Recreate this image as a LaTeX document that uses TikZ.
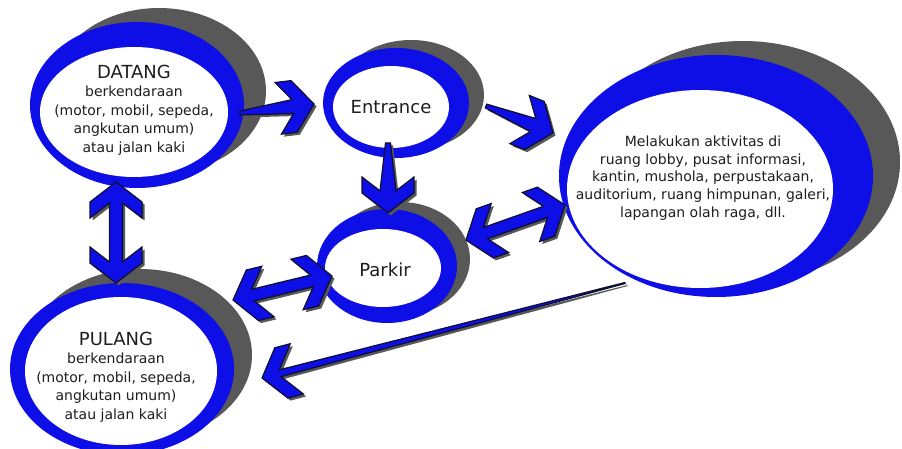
\documentclass[tikz,border=0pt]{standalone}
\usepackage{fontspec}
\setmainfont{DejaVu Sans}
\usepackage{tikz}
\usetikzlibrary{shapes.geometric}
\definecolor{ringblue}{RGB}{14,14,230}
\definecolor{ringgray}{RGB}{88,88,88}
\definecolor{txtgray}{RGB}{30,30,30}
\definecolor{arline}{RGB}{15,15,50}

\newcommand\arrowsetup[2]{%
  \pgfpointdiff{\pgfpointanchor{#1}{center}}{\pgfpointanchor{#2}{center}}%
  \pgfgetlastxy{\arx}{\ary}%
  \pgfmathsetmacro\arang{atan2(\ary,\arx)}%
  \pgfmathsetmacro\arlen{veclen(\arx,\ary)}%
  \pgfmathsetmacro\arback{\arlen-20}%
  \pgfmathsetmacro\arend{\arlen-36}%
}
\newcommand\onepoly[5]{%
  \path[#1,shift={(#2)},shift={(#5)},rotate=\arang]
    (0,#3) -- (\arcut,#4) -- (\arend,26) -- (\arback,26) -- (\arlen,0)
    -- (\arback,-26) -- (\arend,-26) -- (\arcut,-#4) -- (0,-#3) -- cycle;
}
\newcommand\onearrow[4]{%
  \arrowsetup{#1}{#2}%
  \pgfmathsetmacro\arcut{\arlen-16-20*#4/26}%
  \onepoly{arshadow}{#1}{#3}{#4}{2.5pt,-2.5pt}%
  \onepoly{arbody}{#1}{#3}{#4}{0pt,0pt}%
}
\newcommand\twopoly[4]{%
  \path[#1,shift={(#2)},shift={(#4)},rotate=\arang]
    (0,0) -- (20,26) -- (36,26) -- (\arcut,#3) -- (\arcutb,#3) -- (\arend,26)
    -- (\arback,26) -- (\arlen,0) -- (\arback,-26) -- (\arend,-26)
    -- (\arcutb,-#3) -- (\arcut,-#3) -- (36,-26) -- (20,-26) -- cycle;
}
\newcommand\twoarrow[3]{%
  \arrowsetup{#1}{#2}%
  \pgfmathsetmacro\arcut{16+20*#3/26}%
  \pgfmathsetmacro\arcutb{\arlen-\arcut}%
  \twopoly{arshadow}{#1}{#3}{2.5pt,-2.5pt}%
  \twopoly{arbody}{#1}{#3}{0pt,0pt}%
}

\begin{document}
\begin{tikzpicture}[x=1pt,y=-1pt]
  \tikzstyle{shell}=[ellipse,inner sep=0pt,fill=ringgray]
  \tikzstyle{ring}=[ellipse,inner sep=0pt,fill=ringblue]
  \tikzstyle{bubble}=[ellipse,inner sep=0pt,fill=white]
  \tikzstyle{words}=[align=center,text=txtgray,inner sep=0pt,font=\fontsize{14}{18.5}\selectfont]
  \tikzstyle{bigwords}=[text=txtgray,inner sep=0pt,font=\fontsize{18}{22}\selectfont]
  \tikzstyle{arbody}=[fill=ringblue,draw=arline,line width=1.2pt]
  \tikzstyle{arshadow}=[fill=ringgray]
  \useasboundingbox (0,0) rectangle (902,449);

  \node[shell,minimum width=214pt,minimum height=166pt] (datangshell) at (159,91) {};
  \node[ring,minimum width=214pt,minimum height=166pt] (datangring) at (137,105) {};
  \node[bubble,minimum width=188pt,minimum height=130pt] (datang) at (134,112) {};
  \node[words] (datangtxt) at (134,110) {{\fontsize{18}{22}\selectfont DATANG}\\berkendaraan\\(motor, mobil, sepeda,\\angkutan umum)\\atau jalan kaki};

  \node[shell,minimum width=146pt,minimum height=110pt] (entranceshell) at (411,95) {};
  \node[ring,minimum width=146pt,minimum height=110pt] (entrancering) at (396,103) {};
  \node[bubble,minimum width=116pt,minimum height=82pt] (entrance) at (391,107) {};
  \node[bigwords] (entrancetxt) at (391,107) {Entrance};

  \node[shell,minimum width=140pt,minimum height=114pt] (parkirshell) at (400,259) {};
  \node[ring,minimum width=140pt,minimum height=114pt] (parkirring) at (387,266) {};
  \node[bubble,minimum width=116pt,minimum height=78pt] (parkir) at (383,268) {};
  \node[bigwords] (parkirtxt) at (385,270) {Parkir};

  \node[shell,minimum width=314pt,minimum height=242pt] (aktivshell) at (743,162) {};
  \node[ring,minimum width=314pt,minimum height=242pt] (aktivring) at (716,176) {};
  \node[bubble,minimum width=266pt,minimum height=198pt] (aktiv) at (700,189) {};
  \node[words,font=\fontsize{14}{17.8}\selectfont] (aktivtxt) at (703,178) {Melakukan aktivitas di\\ruang lobby, pusat informasi,\\kantin, mushola, perpustakaan,\\auditorium, ruang himpunan, galeri,\\lapangan olah raga, dll.};

  \node[shell,minimum width=224pt,minimum height=172pt] (pulangshell) at (140,355) {};
  \node[ring,minimum width=224pt,minimum height=172pt] (pulangring) at (122,369) {};
  \node[bubble,minimum width=192pt,minimum height=148pt] (pulang) at (121,371) {};
  \node[words] (pulangtxt) at (116,377) {{\fontsize{18}{22}\selectfont PULANG}\\berkendaraan\\(motor, mobil, sepeda,\\angkutan umum)\\atau jalan kaki};

  \coordinate (d1) at (240,113);
  \coordinate (d2) at (116,182);
  \coordinate (e1) at (314,104);
  \coordinate (e2) at (486,106);
  \coordinate (e3) at (388,143);
  \coordinate (p1) at (388,213);
  \coordinate (p2) at (466,240);
  \coordinate (p3) at (332,276);
  \coordinate (m1) at (553,133);
  \coordinate (m2) at (565,205);
  \coordinate (m3) at (625,283);
  \coordinate (u1) at (233,300);
  \coordinate (u2) at (262,378);
  \coordinate (u3) at (116,283);

  \onearrow{d1}{e1}{2}{7}
  \onearrow{e2}{m1}{2}{7}
  \onearrow{e3}{p1}{2.5}{8}
  \twoarrow{p2}{m2}{6}
  \twoarrow{u1}{p3}{6}
  \twoarrow{d2}{u3}{6.5}
  \onearrow{m3}{u2}{0.5}{3.5}
\end{tikzpicture}
\end{document}
